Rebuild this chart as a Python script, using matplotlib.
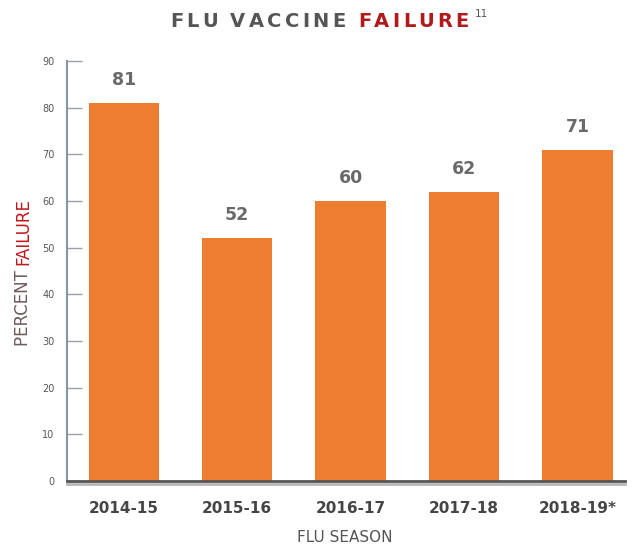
import matplotlib
matplotlib.use("Agg")
import matplotlib.pyplot as plt
import matplotlib.patheffects as pe

seasons = ["2014-15", "2015-16", "2016-17", "2017-18", "2018-19*"]
failure = [81, 52, 60, 62, 71]
yticks = [0, 10, 20, 30, 40, 50, 60, 70, 80, 90]

BAR = "#ed7d31"
GRAY = "#555555"
RED = "#b01a1a"

fig = plt.figure(figsize=(6.38, 5.48), dpi=100)
ax = fig.add_axes([0.105, 0.122, 0.875, 0.767])

x = list(range(len(seasons)))
bars = ax.bar(x, failure, width=0.62, color=BAR, zorder=2)
ax.set_xlim(-0.5, 4.42)
ax.set_ylim(0, 90)
ax.set_yticks(yticks)
ax.set_yticklabels([str(v) for v in yticks], fontsize=7, color=GRAY)
ax.tick_params(axis="y", direction="in", length=11, width=1, color="#9aa0a8", pad=9)
ax.set_xticks(x)
ax.set_xticklabels(seasons, fontsize=11, fontweight="bold", color="#454545",
                   family="DejaVu Sans")
ax.tick_params(axis="x", length=0, pad=14)

for s in ["top", "right"]:
    ax.spines[s].set_visible(False)
ax.spines["left"].set_color("#8894a8")
ax.spines["left"].set_linewidth(1.5)
ax.spines["bottom"].set_color("#555555")
ax.spines["bottom"].set_linewidth(2)
ax.spines["bottom"].set_path_effects([pe.SimpleLineShadow(offset=(0, -2), shadow_color="#888888", alpha=0.6), pe.Normal()])

for xi, v in zip(x, failure):
    ax.annotate(str(v), (xi, v), xytext=(0, 10), textcoords="offset points",
                ha="center", va="bottom", fontsize=12.5, fontweight="bold", color="#6a6a6a")

fig.canvas.draw()
r = fig.canvas.get_renderer()

TRACK = 3.2

def spaced(parts, y, size):
    items = []
    total = 0
    for txt, col in parts:
        for ch in txt:
            t = fig.text(0, y, ch, fontsize=size, fontweight="bold", color=col,
                         ha="left", va="baseline", transform=None)
            w = t.get_window_extent(r).width if ch != " " else size * 0.45
            items.append((t, w))
            total += w + TRACK
    return items, total

items, total = spaced([("FLU VACCINE ", "#555555"), ("FAILURE", RED)], 548 - 27, 14)
x0 = 321 - total / 2
for t, w in items:
    t.set_x(x0)
    x0 += w + TRACK
fig.text(x0 + 3, 548 - 17, "11", fontsize=7.5, color="#555555", transform=None,
         ha="left", va="baseline")

# Y label two-colour
t1 = fig.text(0, 0, "PERCENT ", rotation=90, fontsize=12, color="#6e5a5a",
              ha="center", va="bottom", transform=None)
t2 = fig.text(0, 0, "FAILURE", rotation=90, fontsize=12, color="#c0181b",
              ha="center", va="bottom", transform=None)
h1 = t1.get_window_extent(r).height
ybot = 548 - 346
t1.set_position((23, ybot))
t2.set_position((23, ybot + h1))

fig.text(345, 548 - 538, "FLU SEASON", transform=None, fontsize=11, color=GRAY,
         ha="center", va="center")

fig.savefig("out.png", dpi=100)
